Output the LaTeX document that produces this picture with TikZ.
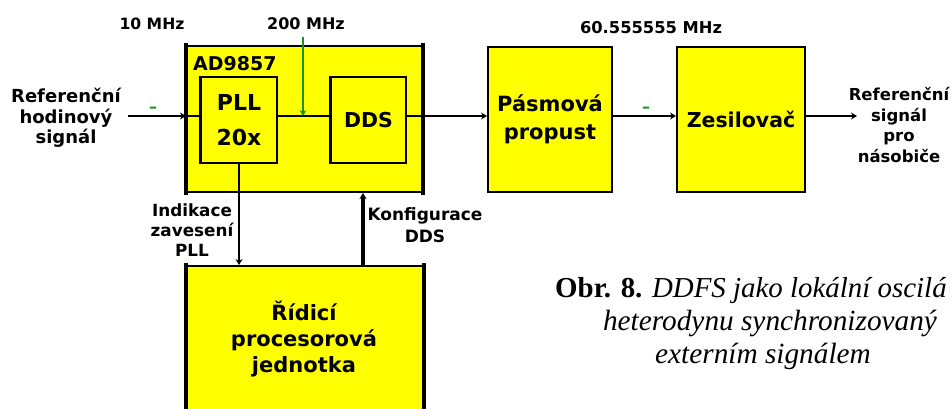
\documentclass[tikz,border=0pt]{standalone}
\usepackage{fontspec}
\setmainfont{DejaVu Sans}
\newfontfamily\capfont{Liberation Serif}
\usetikzlibrary{arrows.meta}
\definecolor{boxyellow}{RGB}{255,255,0}
\definecolor{sigreen}{RGB}{20,150,20}
\newcommand{\fs}[2]{\fontsize{#1}{#2}\selectfont}
\begin{document}
\begin{tikzpicture}[x=1pt,y=-1pt,
  blk/.style={draw=black, fill=boxyellow, line width=2pt, inner sep=0pt, align=center},
  side/.style={line width=4.5pt, line cap=rect},
  sig/.style={line width=1.8pt},
  tip/.style={-{Stealth[length=6pt,width=7pt]}},
  lbl/.style={inner sep=0pt, align=center},
  greenmark/.style={inner sep=0pt, text=sigreen, font=\bfseries\fs{16}{18}}
]
\useasboundingbox (0,0) rectangle (952,408);
\clip (0,0) rectangle (952,408);
% boxes
\node[blk, minimum width=235pt, minimum height=146pt] (ad) at (304.5,119) {};
\node[blk, minimum width=76pt, minimum height=86pt, font=\bfseries\fs{22}{35}] (pll) at (239,120) {PLL\\20x};
\node[blk, minimum width=75pt, minimum height=86pt, font=\bfseries\fs{20.5}{26}] (dds) at (368.5,120) {DDS};
\node[blk, minimum width=124pt, minimum height=145pt, font=\bfseries\fs{21}{28}] (pas) at (550,119.5) {Pásmová\\propust};
\node[blk, minimum width=128pt, minimum height=145pt, font=\bfseries\fs{20.5}{26}] (zes) at (741,119.5) {Zesilovač};
\node[blk, minimum width=236pt, minimum height=160pt] (rid) at (305,346) {};
% thick sides
\draw[side] (ad.north west) -- (ad.south west);
\draw[side] (ad.north east) -- (ad.south east);
\draw[side] (rid.north west) -- (rid.south west);
\draw[side] (rid.north east) -- (rid.south east);
\draw[line width=3pt] (dds.north west) -- (dds.south west);
\draw[line width=3pt] (pll.north west) -- (pll.south west);
% labels inside
\node[lbl, anchor=base west, font=\bfseries\fs{19}{22}] (adl) at (193,70) {AD9857};
\node[lbl, font=\bfseries\fs{21}{26}] (ridl) at (304,339) {Řídicí\\procesorová\\jednotka};
% coordinates
\coordinate (a1) at (128,116);
\coordinate (g1) at (303,37);
\coordinate (out) at (857,116);
\coordinate (kx) at (363,0);
% connectors
\draw[sig, tip] (a1) -- (ad.west |- a1);
\draw[sig] (ad.west |- a1) -- (pll.west |- a1);
\draw[sig] (pll.east |- a1) -- (dds.west |- a1);
\draw[sig, tip, draw=sigreen] (g1) -- (g1 |- a1);
\draw[sig] (dds.east |- a1) -- (ad.east |- a1);
\draw[sig, tip] (ad.east |- a1) -- (pas.west |- a1);
\draw[sig, tip] (pas.east |- a1) -- (zes.west |- a1);
\draw[sig, tip] (zes.east |- a1) -- (out);
\draw[sig, tip] (pll.south) -- (pll.south |- rid.north);
\draw[line width=3.2pt, tip] (kx |- rid.north) -- (kx |- ad.south);
% green marks
\node[greenmark] (d1) at (153,110) {–};
\node[greenmark] (d2) at (646,110) {–};
% outside labels
\node[lbl, font=\bfseries\fs{15.6}{19}] (f10) at (152,24) {10 MHz};
\node[lbl, font=\bfseries\fs{16}{19}] (f200) at (306,24) {200 MHz};
\node[lbl, font=\bfseries\fs{16.3}{19}] (f60) at (651,28) {60.555555 MHz};
\node[lbl, font=\bfseries\fs{18}{20.5}] (inl) at (66,118) {Referenční\\hodinový\\signál};
\node[lbl, font=\bfseries\fs{16.5}{20.5}] (outl) at (899,125) {Referenční\\signál\\pro\\násobiče};
\node[lbl, font=\bfseries\fs{16.8}{20}] (ind) at (192,230) {Indikace\\zavesení\\PLL};
\node[lbl, font=\bfseries\fs{17}{22}] (konf) at (425,225) {Konfigurace\\DDS};
% caption
\node[lbl, anchor=base west, font=\capfont\fs{28.9}{33}] (cap1) at (555,297) {\textbf{Obr. 8.} \textit{DDFS jako lokální oscilá}};
\node[lbl, anchor=base, font=\capfont\fs{29.3}{33}] (cap2) at (770,330) {\textit{heterodynu synchronizovaný}};
\node[lbl, anchor=base, font=\capfont\fs{29.3}{33}] (cap3) at (763,363) {\textit{externím signálem}};
\end{tikzpicture}
\end{document}
